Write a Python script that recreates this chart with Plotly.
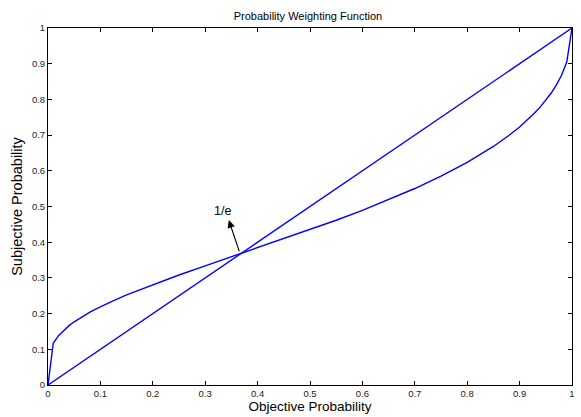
import plotly.graph_objects as go

# Objective probability (x) and subjective probability (y)
p_vals = [0, 0.01, 0.02, 0.03, 0.04, 0.05, 0.06, 0.07, 0.08, 0.09, 0.10, 0.12, 0.15,
          0.20, 0.25, 0.30, 0.35, 0.3679, 0.40, 0.45, 0.50, 0.55, 0.60, 0.65, 0.70,
          0.75, 0.80, 0.85, 0.88, 0.90, 0.91, 0.92, 0.93, 0.94, 0.95, 0.96, 0.97,
          0.98, 0.99, 1.0]
w_vals = [0, 0.1170, 0.1383, 0.1537, 0.1663, 0.1771, 0.1869, 0.1958, 0.2041, 0.2119,
          0.2193, 0.2331, 0.2522, 0.2812, 0.3081, 0.3338, 0.3589, 0.3679, 0.3840,
          0.4092, 0.4349, 0.4615, 0.4893, 0.5188, 0.5504, 0.5849, 0.6235, 0.6682,
          0.6994, 0.7228, 0.7356, 0.7492, 0.7639, 0.7797, 0.7973, 0.8171, 0.8399,
          0.8675, 0.9046, 1.0]
diag_x = [0, 1]
diag_y = [0, 1]

tick_vals = [0, 0.1, 0.2, 0.3, 0.4, 0.5, 0.6, 0.7, 0.8, 0.9, 1]
tick_text = ["0", "0.1", "0.2", "0.3", "0.4", "0.5", "0.6", "0.7", "0.8", "0.9", "1"]

arrow_head = (0.345, 0.462)
arrow_tail = (0.366, 0.370)
label_pos = (0.333, 0.488)

FONT = "Liberation Sans, Arial"

fig = go.Figure()
fig.add_trace(go.Scatter(x=p_vals, y=w_vals, mode="lines",
                         line=dict(color="#0000ff", width=1.4), showlegend=False))
fig.add_trace(go.Scatter(x=diag_x, y=diag_y, mode="lines",
                         line=dict(color="#0000ff", width=1.4), showlegend=False))

fig.add_annotation(x=arrow_head[0], y=arrow_head[1], ax=arrow_tail[0], ay=arrow_tail[1],
                   xref="x", yref="y", axref="x", ayref="y", text="",
                   showarrow=True, arrowhead=2, arrowsize=1.4, arrowwidth=1.1,
                   arrowcolor="black", standoff=0, startstandoff=0)
fig.add_annotation(x=label_pos[0], y=label_pos[1], xref="x", yref="y", text="1/e",
                   showarrow=False, font=dict(size=12.5, color="black", family=FONT))

axis_common = dict(range=[0, 1], tickvals=tick_vals, ticktext=tick_text,
                   ticks="inside", ticklen=4, tickcolor="black", tickwidth=1,
                   showline=True, linecolor="black", linewidth=1, mirror="ticks",
                   showgrid=False, zeroline=False,
                   tickfont=dict(size=9.5, color="#222", family=FONT))

fig.update_xaxes(**axis_common,
                 title=dict(text="Objective Probability", standoff=1,
                            font=dict(size=13.5, color="black", family=FONT)))
fig.update_yaxes(**axis_common,
                 title=dict(text="Subjective Probability", standoff=5,
                            font=dict(size=14.5, color="black", family=FONT)))

fig.update_layout(
    width=581, height=417,
    margin=dict(l=48, r=6, t=28, b=32),
    paper_bgcolor="white", plot_bgcolor="white",
    title=dict(text="Probability Weighting Function", x=0.530, xanchor="center",
               y=0.962, yanchor="middle",
               font=dict(size=11, color="black", family=FONT)),
)

fig.write_html("out.html")
